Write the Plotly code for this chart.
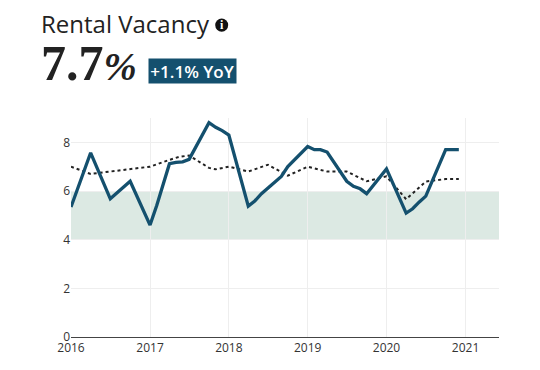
import plotly.graph_objects as go

vacancy_dates = ["2016-01-01","2016-04-01","2016-07-01","2016-08-15","2016-10-01","2017-01-01","2017-02-01","2017-04-01","2017-05-01","2017-06-01","2017-07-01",
    "2017-10-01","2017-11-01","2017-12-01","2018-01-01","2018-04-01","2018-05-01","2018-06-01","2018-07-01","2018-08-01","2018-09-01","2018-10-01",
    "2019-01-01","2019-02-01","2019-03-01","2019-04-01","2019-07-01","2019-08-01","2019-09-01","2019-10-01","2020-01-01","2020-04-01","2020-05-01","2020-06-01","2020-07-01","2020-10-01","2020-12-01"]
vacancy_values = [5.34,7.57,5.68,6.02,6.4,4.6,5.4,7.12,7.18,7.2,7.3,8.81,8.62,8.48,8.3,5.38,5.59,5.89,6.12,6.4,6.6,7.0,
    7.83,7.7,7.7,7.6,6.4,6.19,6.09,5.89,6.91,5.09,5.27,5.55,5.79,7.7,7.7]
national_dates = ["2016-01-01","2016-04-01","2016-07-01","2016-10-01","2017-01-01","2017-04-01","2017-05-15","2017-07-01","2017-10-01","2017-11-01","2018-01-01","2018-04-01","2018-07-01","2018-10-01",
    "2019-01-01","2019-04-01","2019-07-01","2019-10-01","2020-01-01","2020-04-01","2020-07-01","2020-10-01","2020-12-01"]
national_values = [7.0,6.7,6.8,6.9,7.0,7.28,7.4,7.46,6.95,6.89,7.0,6.8,7.08,6.63,7.0,6.8,6.8,6.4,6.6,5.66,6.39,6.49,6.49]
band_low, band_high = 4, 6
title_text = "Rental Vacancy"
value_number = "7.7"
value_unit = "%"
badge_text = "+1.1% YoY"
tick_years = ["2016-01-01","2017-01-01","2018-01-01","2019-01-01","2020-01-01","2021-01-01"]
tick_labels = ["2016","2017","2018","2019","2020","2021"]

TEAL = "#14506e"
fig = go.Figure()
fig.add_trace(go.Scatter(x=national_dates, y=national_values, mode="lines", line=dict(color="#222222", width=2, dash="3px 3px")))
fig.add_trace(go.Scatter(x=vacancy_dates, y=vacancy_values, mode="lines", line=dict(color=TEAL, width=3.3)))

fig.update_layout(
    width=532, height=362, margin=dict(l=63, r=41, t=110, b=33),
    paper_bgcolor="white", plot_bgcolor="white", showlegend=False,
    font=dict(family="Open Sans", color="#333333", size=12),
    xaxis=dict(range=["2016-01-01","2021-06-05"], tickvals=tick_years, ticktext=tick_labels, ticks="",
               showgrid=True, gridcolor="#eeeeee", gridwidth=1, showline=True, linecolor="#444444", linewidth=1, zeroline=False),
    yaxis=dict(range=[0,9], tickvals=[0,2,4,6,8], showgrid=True, gridcolor="#eeeeee", gridwidth=1, zeroline=False, ticks="", showline=False),
    annotations=[
        dict(xref="paper", yref="paper", x=-0.0748, y=1.433, xanchor="left", yanchor="middle", text=title_text, showarrow=False,
             font=dict(family="Open Sans", size=24, color="#222222")),
        dict(xref="paper", yref="paper", x=-0.0748, y=1.249, xanchor="left", yanchor="middle",
             text="<b>"+value_number+"</b><span style='font-size:40px'><b><i>"+value_unit+"</i></b></span>", showarrow=False,
             font=dict(family="Liberation Serif", size=50, color="#222222")),
        dict(xref="paper", yref="paper", x=0.18, y=1.2146, xanchor="left", yanchor="middle", text=badge_text, showarrow=False,
             bgcolor=TEAL, borderpad=1, width=85, height=22, align="center",
             font=dict(family="Open Sans", size=17, weight=600, color="white")),
        dict(xref="paper", yref="paper", x=0.352, y=1.4247, xanchor="center", yanchor="middle", text="<b>i</b>", showarrow=False,
             font=dict(family="Liberation Serif", size=12, color="white")),
    ],
    shapes=[
        dict(type="rect", xref="paper", yref="y", x0=0, x1=1, y0=band_low, y1=band_high, fillcolor="#a8c8b9", opacity=0.4, line_width=0, layer="below"),
        dict(type="circle", xref="paper", yref="paper", x0=0.3369, x1=0.3673, y0=1.394, y1=1.4543, fillcolor="#111111", opacity=1, line_width=0, layer="above"),
    ],
)
fig.write_html("out.html", config=dict(displayModeBar=False))
